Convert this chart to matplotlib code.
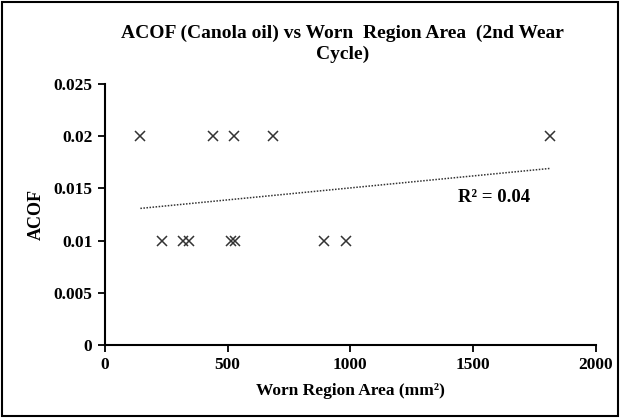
import matplotlib
matplotlib.use("Agg")
import matplotlib.pyplot as plt
import numpy as np
from matplotlib.patches import Rectangle

# worn region area (mm^2) and ACOF
area = [145, 440, 525, 685, 1815, 232, 317, 341, 516, 532, 894, 984]
acof = [0.02, 0.02, 0.02, 0.02, 0.02, 0.01, 0.01, 0.01, 0.01, 0.01, 0.01, 0.01]
xticks = [0, 500, 1000, 1500, 2000]
yticks = [0, 0.005, 0.01, 0.015, 0.02, 0.025]
ytick_labels = ["0", "0.005", "0.01", "0.015", "0.02", "0.025"]

plt.rcParams['font.family'] = ['Liberation Serif', 'DejaVu Serif']
plt.rcParams['font.weight'] = 'bold'

fig = plt.figure(figsize=(6.2, 4.18), dpi=100)
ax = fig.add_axes([0.169, 0.175, 0.792, 0.624])

ax.plot(area, acof, linestyle='none', marker='x', color='#333333',
        markersize=7, markeredgewidth=1.1)

# linear trendline over the data range
x = np.array(area, dtype=float)
y = np.array(acof)
k, b = np.polyfit(x, y, 1)
xs = np.array([x.min(), x.max()])
ax.plot(xs, k * xs + b, linestyle=(0, (1, 1)), color='#333333', linewidth=1.1)
ax.text(1440, 0.0141, "R² = 0.04", fontsize=13.5, fontweight='bold', va='center', ha='left')

ax.set_xlim(0, 2000)
ax.set_ylim(0, 0.025)
ax.set_xticks(xticks)
ax.set_yticks(yticks)
ax.set_yticklabels(ytick_labels)
ax.tick_params(direction='out', length=5, width=1.3, labelsize=12.5, pad=4)
for s in ['top', 'right']:
    ax.spines[s].set_visible(False)
for s in ['left', 'bottom']:
    ax.spines[s].set_linewidth(1.5)

ax.set_xlabel("Worn Region Area (mm²)", fontsize=12.5, fontweight='bold', labelpad=7)
ax.set_ylabel("ACOF", fontsize=13, fontweight='bold', labelpad=6)

fig.text(0.552, 0.895, "ACOF (Canola oil) vs Worn  Region Area  (2nd Wear\nCycle)",
         ha='center', va='center', fontsize=14, fontweight='bold', linespacing=1.3)

fig.patches.append(Rectangle((0.004, 0.005), 0.992, 0.99, transform=fig.transFigure,
                             fill=False, edgecolor='black', linewidth=1.5))

fig.savefig("out.png", dpi=100)
